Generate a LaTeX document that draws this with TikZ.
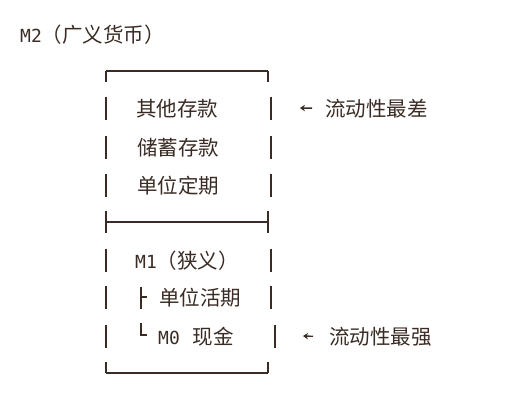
\documentclass[tikz,border=0pt]{standalone}
\usepackage{fontspec}
\setmainfont{Noto Sans CJK SC}
\newfontfamily\monofont{DejaVu Sans Mono}
\usepackage{tikz}
\usetikzlibrary{arrows.meta}
\definecolor{ink}{RGB}{58,44,36}

\begin{document}
\begin{tikzpicture}[x=1pt,y=-1pt,
  txt/.style={anchor=base west,inner sep=0pt,text=ink,font=\fontsize{20.5}{24}\selectfont},
  bar/.style={draw=ink,line width=1.6pt},
  arr/.style={draw=ink,line width=1.4pt,-{Stealth[length=5pt,width=6.5pt]}}]
\useasboundingbox[fill=white] (0,0) rectangle (516,400);
\node[txt] (m2) at (20,42) {{\monofont\fontsize{18}{20}\selectfont M2}（广义货币）};
% box top
\draw[-][bar](106,82)--(106,70.7);
\draw[-][bar](106,70.7)--(268,70.7);
\draw[-][bar](268,70.7)--(268,82);
% rows of M2
\node[txt] (other) at (136,116) {其他存款};
\node[txt] (saving) at (137,155) {储蓄存款};
\node[txt] (fixed) at (137,193) {单位定期};
\draw[-][bar](106,96.5)--(106,119.5);
\draw[-][bar](271,96.5)--(271,119.5);
\draw[-][bar](106,135.5)--(106,158.5);
\draw[-][bar](271,135.5)--(271,158.5);
\draw[-][bar](106,173.5)--(106,196.5);
\draw[-][bar](271,173.5)--(271,196.5);
% divider
\draw[-][bar](106,210.5)--(106,233);
\draw[-][bar](106,221.7)--(268,221.7);
\draw[-][bar](268,210.5)--(268,233);
% rows of M1
\node[txt] (m1) at (135,268) {{\monofont\fontsize{18}{20}\selectfont M1}（狭义）};
\node[txt] (demand) at (159,305) {单位活期};
\node[txt] (m0) at (158,344) {{\monofont\fontsize{18}{20}\selectfont M0}\hspace{13pt}现金};
\draw[-][bar](106,248.5)--(106,271.5);
\draw[-][bar](271,248.5)--(271,271.5);
\draw[-][bar](106,285.5)--(106,308.5);
\draw[-][bar](271,285.5)--(271,308.5);
\draw[-][bar](106,324.5)--(106,347.5);
\draw[-][bar](275,324.5)--(275,347.5);
\draw[-][bar](141,286.5)--(141,308.5);
\draw[-][bar](141,297)--(147,297);
\draw[-][bar](141,323)--(141,335);
\draw[-][bar](140.2,335)--(147,335);
% box bottom
\draw[-][bar](106,362)--(106,372.7);
\draw[-][bar](106,372.7)--(268,372.7);
\draw[-][bar](268,372.7)--(268,362);
% liquidity notes
\node[txt] (worst) at (325,116) {流动性最差};
\node[txt] (best) at (329,344) {流动性最强};
\coordinate (pw) at (300,108);
\coordinate (pb) at (303,336);
\draw[arr]([xshift=-13pt]worst.west)--(pw);
\draw[arr]([xshift=-16pt]best.west)--(pb);
\end{tikzpicture}
\end{document}
